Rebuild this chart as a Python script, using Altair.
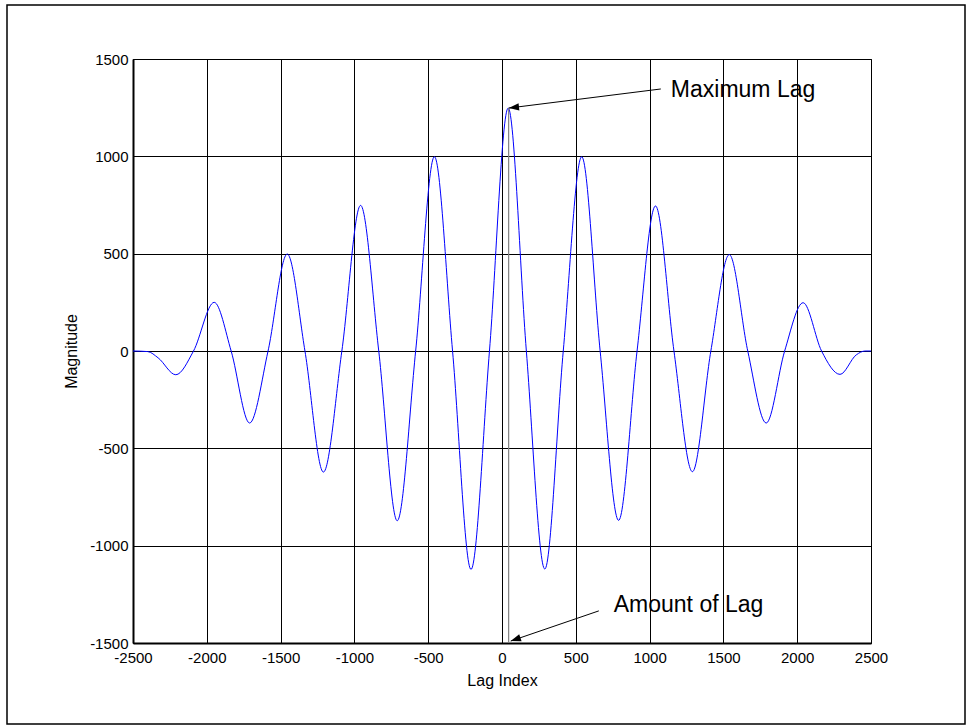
import altair as alt
import pandas as pd

# ---- data ----
LAG = [-2500, -2400, -2330, -2210, -2090, -1950, -1835, -1710, -1585, -1455,
       -1335, -1210, -1085, -958, -835, -710, -585, -458, -335, -210,
       -85, 42, 165, 290, 415, 540, 665, 790, 915, 1040,
       1165, 1290, 1415, 1540, 1665, 1790, 1915, 2040, 2165, 2290,
       2400, 2460, 2500]
MAG = [0, -3, -35, -122, 0, 250, 0, -370, 0, 498,
       0, -622, 0, 748, 0, -872, 0, 998, 0, -1122,
       0, 1248, 0, -1120, 0, 998, 0, -870, 0, 745,
       0, -620, 0, 495, 0, -370, 0, 248, 0, -120,
       -20, 0, 0]

X_TICKS = [-2500, -2000, -1500, -1000, -500, 0, 500, 1000, 1500, 2000, 2500]
Y_TICKS = [-1500, -1000, -500, 0, 500, 1000, 1500]

LAG_MARK_X = [45]
LAG_MARK_Y1 = [-1500]
LAG_MARK_Y2 = [1248]

LABELS = ["Maximum Lag", "Amount of Lag"]
LABEL_X = [1144, 757]
LABEL_Y = [1340, -1305]
ARROW_X1 = [1076, 656]
ARROW_Y1 = [1346, -1335]
ARROW_X2 = [46, 59]
ARROW_Y2 = [1248, -1490]
ARROW_ANGLE = [263, 251]

FONT = "Liberation Sans"

curve = pd.DataFrame({"lag": LAG, "mag": MAG})
lagmark = pd.DataFrame({"lag": LAG_MARK_X, "mag": LAG_MARK_Y1, "y2": LAG_MARK_Y2})
labels = pd.DataFrame({"lag": LABEL_X, "mag": LABEL_Y, "text": LABELS})
arrows = pd.DataFrame({"lag": ARROW_X1, "mag": ARROW_Y1, "x2": ARROW_X2,
                       "y2": ARROW_Y2, "ang": ARROW_ANGLE})
heads = pd.DataFrame({"lag": ARROW_X2, "mag": ARROW_Y2, "ang": ARROW_ANGLE})

xs = alt.Scale(domain=[-2500, 2500], nice=False, zero=False)
ys = alt.Scale(domain=[-1500, 1500], nice=False, zero=False)

x_axis = alt.Axis(values=X_TICKS, grid=True, gridColor="black", gridOpacity=1,
                  gridWidth=1, ticks=False, domainColor="black", domainWidth=2,
                  labelFont=FONT, labelFontSize=15, labelColor="black",
                  labelPadding=7, labelExpr="'' + datum.value",
                  labelFlush=False, labelOverlap=False,
                  title="Lag Index", titleFont=FONT, titleFontSize=16,
                  titleFontWeight="normal", titleColor="black",
                  titleY=37, titleBaseline="middle")
y_axis = alt.Axis(values=Y_TICKS, grid=True, gridColor="black", gridOpacity=1,
                  gridWidth=1, ticks=False, domainColor="black", domainWidth=2,
                  labelFont=FONT, labelFontSize=15, labelColor="black",
                  labelPadding=5, labelExpr="'' + datum.value",
                  labelFlush=False, labelOverlap=False,
                  title="Magnitude", titleFont=FONT, titleFontSize=16,
                  titleFontWeight="normal", titleColor="black",
                  titleX=-62, titleY=292, titleAngle=270,
                  titleAlign="center", titleBaseline="middle")

X = alt.X("lag:Q", scale=xs, axis=x_axis, title="Lag Index")
Y = alt.Y("mag:Q", scale=ys, axis=y_axis, title="Magnitude")

line = alt.Chart(curve).mark_line(color="#0000ff", strokeWidth=1,
                                  interpolate="monotone").encode(x=X, y=Y)

vline = alt.Chart(lagmark).mark_rule(color="#808080", strokeWidth=1.2).encode(
    x=X, y=Y, y2="y2:Q",
)

arrow_lines = alt.Chart(arrows).mark_rule(color="black", strokeWidth=1).encode(
    x=X, y=Y, x2="x2:Q", y2="y2:Q",
)

arrow_heads = alt.Chart(heads).mark_point(
    shape="M0,0L0.36,1L-0.36,1Z", filled=True, fill="black", opacity=1,
    size=420, strokeWidth=0,
).encode(
    x=X, y=Y, angle=alt.Angle("ang:Q", scale=None),
)

texts = alt.Chart(labels).mark_text(font=FONT, fontSize=23, color="black",
                                    align="left", baseline="middle").encode(
    x=X, y=Y, text="text:N",
)

border = alt.Chart(pd.DataFrame({"a": [0]})).mark_rect(
    fillOpacity=0, stroke="black", strokeWidth=1.5
).encode(
    x=alt.value(-126), x2=alt.value(832), y=alt.value(-54), y2=alt.value(665)
)

chart = alt.layer(line, vline, arrow_lines, arrow_heads, texts, border).properties(
    width=738, height=584,
    autosize=alt.AutoSizeParams(type="none"),
    padding={"left": 133, "top": 59, "right": 96, "bottom": 83},
    background="white",
).configure_view(stroke="black", strokeWidth=1)

chart.save("out.html", embed_options={"renderer": "svg", "actions": False})
